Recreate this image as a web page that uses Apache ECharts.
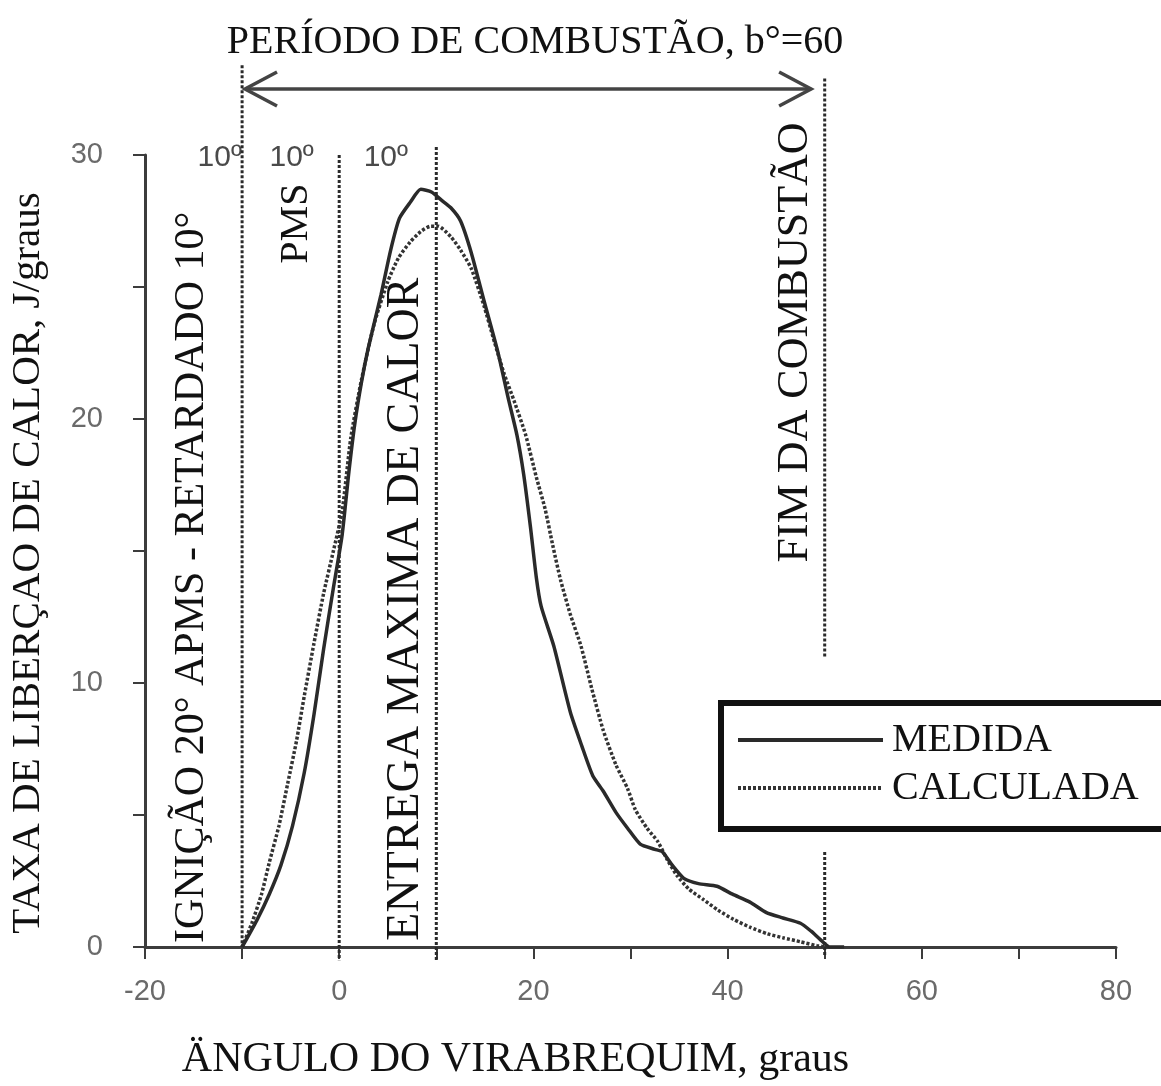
<!DOCTYPE html>
<html>
<head>
<meta charset="utf-8">
<script src="https://cdn.jsdelivr.net/npm/echarts@6/dist/echarts.min.js"></script>
<style>
  html, body { margin: 0; padding: 0; background: #ffffff; overflow: hidden; }
  #chart { width: 1161px; height: 1086px; }
</style>
</head>
<body>
<div id="chart"></div>
<script>
// Heat release rate (J/grau) against crank angle (graus), measured curve
const medidaAngulo = [-10, -8.5, -7.2, -6.0, -4.8, -3.6, -2.6, -1.6, -0.6, 0.3, 1.0, 1.6, 2.3, 3.0, 4.3, 5.3, 6.2, 7.3, 8.4, 9.5,
  10.5, 11.5, 12.5, 13.6, 14.9, 16.3, 17.4, 18.3, 19.0, 19.7, 20.3, 20.8, 22.1, 23.8, 25.0, 26.1, 27.2, 28.5, 29.7, 31.0,
  32.5, 33.3, 34.3, 35.5, 37.0, 38.9, 40.5, 42.3, 44.0, 45.7, 47.5, 48.6, 49.5, 50.5, 52.0];
const medidaTaxa = [0, 1.0, 2.0, 3.1, 4.6, 6.6, 8.8, 11.3, 13.6, 15.6, 18.0, 19.8, 21.4, 22.7, 24.7, 26.4, 27.6, 28.2, 28.7, 28.6,
  28.3, 28.0, 27.5, 26.3, 24.5, 22.6, 20.8, 19.4, 17.9, 15.9, 14.0, 12.9, 11.4, 8.9, 7.6, 6.5, 5.9, 5.1, 4.5, 3.9,
  3.7, 3.6, 3.1, 2.6, 2.4, 2.3, 2.0, 1.7, 1.3, 1.1, 0.9, 0.6, 0.3, 0.0, 0.0];

// Calculated curve
const calculadaAngulo = [-10, -9.0, -8.0, -7.2, -6.2, -5.3, -4.4, -3.6, -2.6, -1.6, -0.6, 0.3, 1.2, 2.3, 3.6, 5.0, 6.1, 7.3, 8.4, 9.4,
  10.2, 11.5, 12.5, 13.6, 14.9, 16.0, 17.0, 18.0, 19.2, 20.3, 21.2, 22.0, 22.8, 23.8, 24.9, 26.0, 27.2, 28.5, 29.7, 30.5,
  31.7, 32.8, 33.8, 34.8, 36.0, 37.5, 39.0, 40.6, 42.3, 44.1, 45.7, 47.5, 49.2, 50.3];
const calculadaTaxa = [0, 0.9, 2.0, 3.2, 4.6, 6.2, 7.8, 9.5, 11.5, 13.4, 15.0, 16.5, 19.3, 21.5, 23.6, 25.2, 26.1, 26.7, 27.1, 27.3,
  27.3, 26.9, 26.4, 25.7, 24.3, 22.9, 21.7, 20.7, 19.4, 17.8, 16.6, 15.2, 13.9, 12.6, 11.4, 9.8, 8.2, 6.9, 6.0, 5.2,
  4.5, 4.0, 3.3, 2.7, 2.2, 1.8, 1.4, 1.05, 0.75, 0.5, 0.35, 0.2, 0.05, 0];

// Crank angles of the combustion events (ignição, PMS, entrega máxima, fim)
const marcosAngulo = [-10, 0, 10, 50];
const intervaloLabel = '10º';

const xMin = -20, xMax = 80, xStep = 10, xLabelStep = 20;
const yMin = 0, yMax = 30, yStep = 5, yLabelStep = 10;

const serif = 'Liberation Serif';
const sans = 'Liberation Sans';
const ink = '#111111';
const grey = '#3c3c3c';

const zip = (a, b) => a.map((v, i) => [v, b[i]]);

const chart = echarts.init(document.getElementById('chart'), null, { renderer: 'canvas' });

chart.setOption({
  backgroundColor: '#ffffff',
  animation: false,
  grid: { left: 145, right: 45, top: 155, bottom: 135, containLabel: false },
  legend: {
    orient: 'vertical',
    left: 724,
    top: 706,
    itemWidth: 145,
    itemHeight: 14,
    itemGap: 8,
    padding: [14, 10, 20, 12],
    itemStyle: { opacity: 0 },
    lineStyle: { width: 4 },
    textStyle: { fontFamily: serif, fontSize: 40, color: ink, padding: [0, 0, 0, 4] },
    data: ['MEDIDA', 'CALCULADA']
  },
  xAxis: {
    type: 'value',
    min: xMin, max: xMax, interval: xStep,
    name: 'ÄNGULO DO VIRABREQUIM, graus',
    nameLocation: 'middle',
    nameGap: 92,
    nameTextStyle: { fontFamily: serif, fontSize: 42, color: ink, padding: [0, 230, 0, 0] },
    axisLine: { onZero: false, lineStyle: { color: grey, width: 3 } },
    axisTick: { show: true, length: 12, lineStyle: { color: grey, width: 2 } },
    axisLabel: {
      margin: 30, fontFamily: sans, fontSize: 29, color: '#6a6a6a',
      formatter: v => (v % xLabelStep === 0 ? String(v) : '')
    },
    splitLine: { show: false }
  },
  yAxis: {
    type: 'value',
    min: yMin, max: yMax, interval: yStep,
    name: 'TAXA DE LIBERÇAO DE CALOR, J/graus',
    nameLocation: 'middle',
    nameRotate: 90,
    nameGap: 96,
    nameTextStyle: { fontFamily: serif, fontSize: 41, color: ink, padding: [0, 24, 0, 0] },
    axisLine: { onZero: false, lineStyle: { color: grey, width: 3 } },
    axisTick: { show: true, length: 12, lineStyle: { color: grey, width: 2 } },
    axisLabel: {
      margin: 42, fontFamily: sans, fontSize: 29, color: '#6a6a6a',
      formatter: v => (v % yLabelStep === 0 ? String(v) : '')
    },
    splitLine: { show: false }
  },
  series: [
    {
      name: 'MEDIDA',
      type: 'line',
      data: zip(medidaAngulo, medidaTaxa),
      symbol: 'none',
      smooth: 0.2,
      color: '#2a2a2a',
      lineStyle: { color: '#2a2a2a', width: 3.5 },
      z: 3
    },
    {
      name: 'CALCULADA',
      type: 'line',
      data: zip(calculadaAngulo, calculadaTaxa),
      symbol: 'none',
      smooth: 0.2,
      color: '#333333',
      lineStyle: { color: '#333333', width: 3.5, type: [3, 2] },
      z: 2
    }
  ]
});

// Annotations placed through the cartesian scales
const P = (x, y) => chart.convertToPixel({ gridIndex: 0 }, [x, y]);
const graphics = [];

function dottedV(x, yTop, yBottom) {
  const a = P(x, yTop), b = P(x, yBottom);
  graphics.push({
    type: 'line', silent: true, z: 1,
    shape: { x1: a[0], y1: a[1], x2: b[0], y2: b[1] },
    style: { stroke: '#2a2a2a', lineWidth: 3, lineDash: [3, 2] }
  });
}
dottedV(marcosAngulo[0], 33.4, 0);
dottedV(marcosAngulo[1], 30, -0.5);
dottedV(marcosAngulo[2], 30.3, -0.5);
dottedV(marcosAngulo[3], 32.9, 11.0);
dottedV(marcosAngulo[3], 3.6, -0.3);

// Double arrow spanning the combustion period
const arrL = P(marcosAngulo[0] + 0.3, 32.5), arrR = P(marcosAngulo[3] - 1.4, 32.5);
const arrowStyle = { stroke: '#444444', lineWidth: 3.5, fill: null };
graphics.push(
  { type: 'line', silent: true, shape: { x1: arrL[0], y1: arrL[1], x2: arrR[0], y2: arrR[1] }, style: arrowStyle },
  { type: 'polyline', silent: true, shape: { points: [[arrL[0] + 32, arrL[1] - 17], [arrL[0], arrL[1]], [arrL[0] + 32, arrL[1] + 17]] }, style: arrowStyle },
  { type: 'polyline', silent: true, shape: { points: [[arrR[0] - 32, arrR[1] - 17], [arrR[0], arrR[1]], [arrR[0] - 32, arrR[1] + 17]] }, style: arrowStyle }
);

// "10º" interval labels above the plot
[[-12.3, 29.9], [-4.9, 29.9], [4.8, 29.9]].forEach(([x, y]) => {
  const p = P(x, y);
  graphics.push({
    type: 'text', silent: true, x: p[0], y: p[1],
    style: { text: intervaloLabel, fontFamily: sans, fontSize: 30, fill: '#4a4a4a', align: 'center', verticalAlign: 'middle' }
  });
});

// Vertical event captions
function vText(text, x, y, size) {
  const p = P(x, y);
  graphics.push({
    type: 'text', silent: true, x: p[0], y: p[1], rotation: Math.PI / 2,
    style: { text, fontFamily: serif, fontSize: size, fill: ink, align: 'center', verticalAlign: 'middle' }
  });
}
vText('IGNIÇÃO 20° APMS - RETARDADO 10°', -15.2, 14.0, 42);
vText('PMS', -4.4, 27.4, 40);
vText('ENTREGA MAXIMA DE CALOR', 6.9, 12.8, 46);
vText('FIM DA COMBUSTÃO', 47.0, 22.9, 44);

// Heading
graphics.push({
  type: 'text', silent: true, x: 535, y: 42,
  style: { text: 'PERÍODO DE COMBUSTÃO, b°=60', fontFamily: serif, fontSize: 40, fill: ink, align: 'center', verticalAlign: 'middle' }
});

// Legend frame: open on the right, running off the canvas edge
graphics.push({
  type: 'rect', silent: true, z: 3,
  shape: { x: 721, y: 703, width: 460, height: 126 },
  style: { fill: '#ffffff', stroke: null }
});
graphics.push({
  type: 'polyline', silent: true, z: 3,
  shape: { points: [[1200, 703], [721, 703], [721, 829], [1200, 829]] },
  style: { stroke: '#111111', lineWidth: 6, fill: null, lineJoin: 'miter' }
});

chart.setOption({ graphic: graphics });
</script>
</body>
</html>
